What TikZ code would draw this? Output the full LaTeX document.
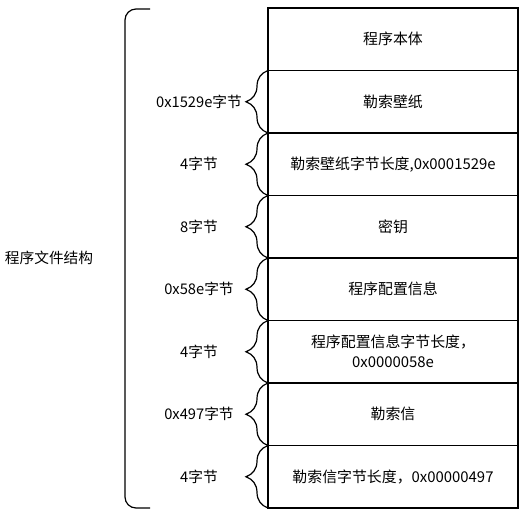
\documentclass[tikz,border=0pt]{standalone}
\usepackage{fontspec}
\usepackage{tikz}
\usetikzlibrary{positioning,decorations.pathreplacing}
\newfontfamily\cjk{Noto Sans CJK SC}

\begin{document}
\begin{tikzpicture}[
  x=1pt, y=-1pt,
  node distance=0pt,
  row/.style={draw, line width=1.2pt, minimum width=250pt, minimum height=62.5pt,
              outer sep=0pt, inner sep=2pt, align=center,
              font=\cjk\fontsize{14.9}{20}\selectfont},
  lbl/.style={align=center, inner sep=0pt, font=\cjk\fontsize{14.7}{17}\selectfont},
  brc/.style={line width=1.2pt, decorate,
              decoration={brace, amplitude=22pt}}
]
\useasboundingbox (0,0) rectangle (532,515);

\node[row] at (393,39.25) (body) {程序本体};
\node[row, below=of body] (wall) {勒索壁纸};
\node[row, below=of wall] (wlen) {勒索壁纸字节长度,0x0001529e};
\node[row, below=of wlen] (key) {密钥};
\node[row, below=of key] (cfg) {程序配置信息};
\node[row, below=of cfg] (clen) {程序配置信息字节长度，\\0x0000058e};
\node[row, below=of clen] (note) {勒索信};
\node[row, below=of note] (nlen) {勒索信字节长度，0x00000497};

% size labels
\node[lbl] at ([xshift=-69pt]wall.west) (lwall) {0x1529e字节};
\node[lbl] at ([xshift=-69pt]wlen.west) (lwlen) {4字节};
\node[lbl] at ([xshift=-69pt]key.west) (lkey) {8字节};
\node[lbl] at ([xshift=-69pt]cfg.west) (lcfg) {0x58e字节};
\node[lbl] at ([xshift=-69pt]clen.west) (lclen) {4字节};
\node[lbl] at ([xshift=-69pt]note.west) (lnote) {0x497字节};
\node[lbl] at ([xshift=-69pt]nlen.west) (lnlen) {4字节};

\draw[brc] (wall.south west) -- (wall.north west);
\draw[brc] (wlen.south west) -- (wlen.north west);
\draw[brc] (key.south west) -- (key.north west);
\draw[brc] (cfg.south west) -- (cfg.north west);
\draw[brc] (clen.south west) -- (clen.north west);
\draw[brc] (note.south west) -- (note.north west);
\draw[brc] (nlen.south west) -- (nlen.north west);

% whole file
\draw[line width=1.2pt, rounded corners=11pt]
  ([xshift=-118pt,yshift=-1pt]body.north west) -- ([xshift=-143pt,yshift=-1pt]body.north west)
  -- ([xshift=-143pt]nlen.south west) -- ([xshift=-118pt]nlen.south west);
\node[lbl] at (49,258) (whole) {程序文件结构};
\end{tikzpicture}
\end{document}
